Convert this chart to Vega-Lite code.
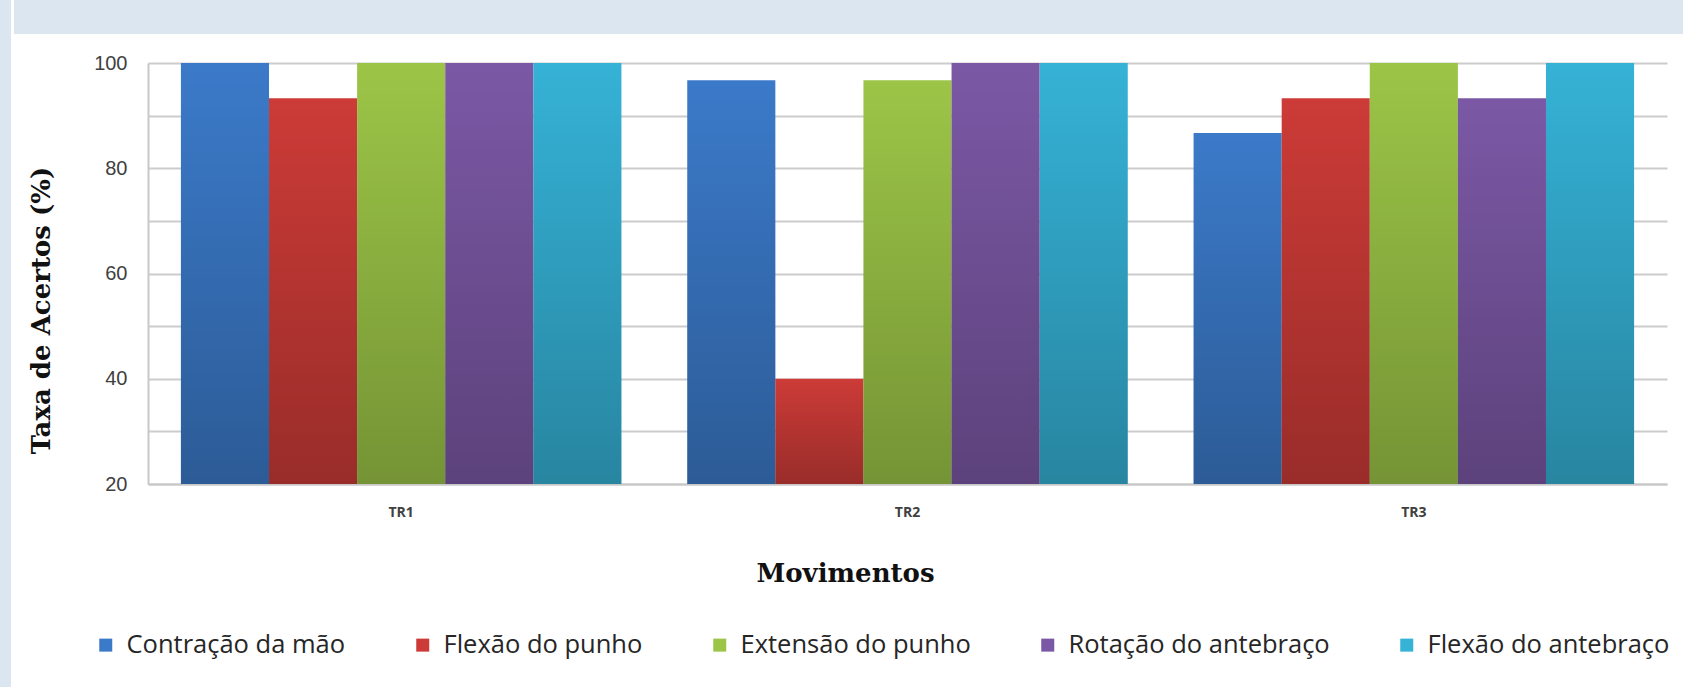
{
  "$schema": "https://vega.github.io/schema/vega-lite/v6.json",
  "background": "white",
  "padding": 0,
  "config": {
    "view": {"stroke": null}
  },
  "columns": 2,
  "spacing": 0,
  "concat": [
    {
      "width": 11,
      "height": 687,
      "data": {"values": [{"a": 1}]},
      "mark": {"type": "point", "opacity": 0},
      "view": {"fill": "#dce6f1", "stroke": null}
    },
    {
      "spacing": 0,
      "vconcat": [
        {
          "width": 1672,
          "height": 34,
          "data": {"values": [{"a": 1}]},
          "mark": {"type": "point", "opacity": 0},
          "view": {"fill": "#dce6f1", "stroke": null}
        },
        {
          "spacing": 10,
          "hconcat": [
            {
              "width": 1,
              "height": 1,
              "data": {"values": [{"a": 1}]},
              "mark": {"type": "point", "opacity": 0},
              "view": {"stroke": null}
            },
            {
              "width": 1519,
              "height": 421,
              "title": {"text": " ", "fontSize": 2, "offset": 17, "anchor": "start"},
              "data": {
                "values": [
                  {"ensaio": "TR1", "movimento": "Contração da mão", "taxa": 100},
                  {"ensaio": "TR1", "movimento": "Flexão do punho", "taxa": 93.3},
                  {"ensaio": "TR1", "movimento": "Extensão do punho", "taxa": 100},
                  {"ensaio": "TR1", "movimento": "Rotação do antebraço", "taxa": 100},
                  {"ensaio": "TR1", "movimento": "Flexão do antebraço", "taxa": 100},
                  {"ensaio": "TR2", "movimento": "Contração da mão", "taxa": 96.7},
                  {"ensaio": "TR2", "movimento": "Flexão do punho", "taxa": 40},
                  {"ensaio": "TR2", "movimento": "Extensão do punho", "taxa": 96.7},
                  {"ensaio": "TR2", "movimento": "Rotação do antebraço", "taxa": 100},
                  {"ensaio": "TR2", "movimento": "Flexão do antebraço", "taxa": 100},
                  {"ensaio": "TR3", "movimento": "Contração da mão", "taxa": 86.7},
                  {"ensaio": "TR3", "movimento": "Flexão do punho", "taxa": 93.3},
                  {"ensaio": "TR3", "movimento": "Extensão do punho", "taxa": 100},
                  {"ensaio": "TR3", "movimento": "Rotação do antebraço", "taxa": 93.3},
                  {"ensaio": "TR3", "movimento": "Flexão do antebraço", "taxa": 100}
                ]
              },
              "encoding": {
                "x": {
                  "field": "ensaio",
                  "type": "nominal",
                  "scale": {"paddingInner": 0.13, "paddingOuter": 0.065},
                  "axis": {
                    "title": "Movimentos",
                    "titleFont": "DejaVu Serif",
                    "titleFontWeight": "bold",
                    "titleFontSize": 26,
                    "titleColor": "#111111",
                    "titleX": 697,
                    "titleY": 89,
                    "titleAlign": "center",
                    "titleBaseline": "middle",
                    "labelAngle": 0,
                    "labelFont": "Open Sans",
                    "labelFontWeight": "bold",
                    "labelFontSize": 14,
                    "labelColor": "#404040",
                    "labelPadding": 21,
                    "ticks": false,
                    "domainColor": "#c8c8c8",
                    "domainWidth": 2
                  }
                },
                "xOffset": {
                  "field": "movimento",
                  "type": "nominal",
                  "sort": ["Contração da mão", "Flexão do punho", "Extensão do punho", "Rotação do antebraço", "Flexão do antebraço"],
                  "scale": {"paddingInner": 0, "paddingOuter": 0}
                },
                "y": {
                  "field": "taxa",
                  "type": "quantitative",
                  "scale": {"domain": [20, 100], "nice": false, "zero": false},
                  "axis": {
                    "title": "Taxa de Acertos (%)",
                    "titleFont": "DejaVu Serif",
                    "titleFontWeight": "bold",
                    "titleFontSize": 26,
                    "titleColor": "#111111",
                    "titleX": -107,
                    "titleY": 247,
                    "titleAlign": "center",
                    "titleBaseline": "middle",
                    "titleAngle": 270,
                    "values": [20, 30, 40, 50, 60, 70, 80, 90, 100],
                    "labelExpr": "datum.value % 20 == 0 ? datum.label : ''",
                    "labelFont": "Liberation Sans",
                    "labelFontSize": 20,
                    "labelColor": "#404040",
                    "labelPadding": 21,
                    "ticks": false,
                    "gridColor": "#cccccc",
                    "gridWidth": 2,
                    "domainColor": "#c8c8c8",
                    "domainWidth": 2
                  }
                },
                "y2": {"datum": 20}
              },
              "layer": [
                {
                  "mark": {"type": "bar"},
                  "encoding": {
                    "color": {
                      "field": "movimento",
                      "type": "nominal",
                      "sort": ["Contração da mão", "Flexão do punho", "Extensão do punho", "Rotação do antebraço", "Flexão do antebraço"],
                      "scale": {
                        "domain": ["Contração da mão", "Flexão do punho", "Extensão do punho", "Rotação do antebraço", "Flexão do antebraço"],
                        "range": ["#3b7ac9", "#cc3b37", "#9cc547", "#7b58a5", "#35b2d6"]
                      },
                      "legend": {
                        "title": null,
                        "orient": "none",
                        "legendX": 93,
                        "legendY": 632,
                        "direction": "horizontal",
                        "columns": 5,
                        "symbolType": "square",
                        "symbolSize": 169,
                        "symbolStrokeWidth": 0,
                        "labelFont": "Open Sans",
                        "labelFontSize": 25.5,
                        "labelColor": "#262626",
                        "labelOffset": 8,
                        "labelLimit": 400,
                        "columnPadding": 64
                      }
                    }
                  }
                },
                {
                  "mark": {
                    "type": "bar",
                    "fill": {
                      "gradient": "linear",
                      "x1": 0, "y1": 0, "x2": 0, "y2": 1,
                      "stops": [
                        {"offset": 0, "color": "rgba(0,0,0,0)"},
                        {"offset": 1, "color": "rgba(0,0,0,0.25)"}
                      ]
                    }
                  }
                }
              ]
            }
          ]
        }
      ]
    }
  ]
}
